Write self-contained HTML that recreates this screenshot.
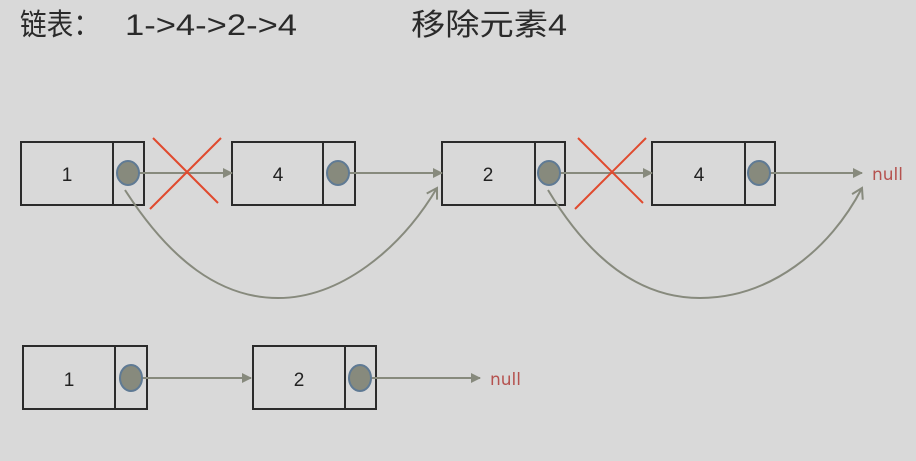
<!DOCTYPE html>
<html><head><meta charset="utf-8"><style>
html,body{margin:0;padding:0;background:#d9d9d9;}
body{width:916px;height:456px;overflow:hidden;}
</style></head><body>
<svg width="916" height="456" xmlns="http://www.w3.org/2000/svg">
<defs>
<marker id="a" markerWidth="10" markerHeight="10" refX="9" refY="5" orient="auto" markerUnits="userSpaceOnUse">
<path d="M0,0 L10,5 L0,10 Z" fill="#878a7d"/></marker>
<marker id="o" markerWidth="14" markerHeight="14" refX="12" refY="7" orient="auto" markerUnits="userSpaceOnUse">
<path d="M2,1 L12,7 L2,13" fill="none" stroke="#878a7d" stroke-width="2"/></marker>
</defs>
<g font-family="'Liberation Sans','Noto Sans CJK SC',sans-serif" font-size="30" fill="#2a2a2a">
<text x="20" y="35" textLength="80" lengthAdjust="spacingAndGlyphs">链表：</text>
<text x="125" y="35" textLength="172" lengthAdjust="spacingAndGlyphs">1-&gt;4-&gt;2-&gt;4</text>
<text x="411" y="35" textLength="156" lengthAdjust="spacingAndGlyphs">移除元素4</text>
</g>
<g fill="none" stroke="#2b2b2b" stroke-width="2">
<rect x="21" y="142" width="123" height="63"/><line x1="113" y1="142" x2="113" y2="205"/>
<rect x="232" y="142" width="123" height="63"/><line x1="323" y1="142" x2="323" y2="205"/>
<rect x="442" y="142" width="123" height="63"/><line x1="535" y1="142" x2="535" y2="205"/>
<rect x="652" y="142" width="123" height="63"/><line x1="745" y1="142" x2="745" y2="205"/>
<rect x="23" y="346" width="124" height="63"/><line x1="115" y1="346" x2="115" y2="409"/>
<rect x="253" y="346" width="123" height="63"/><line x1="345" y1="346" x2="345" y2="409"/>
</g>
<g font-family="'Liberation Sans',sans-serif" font-size="19" fill="#222" text-anchor="middle">
<text x="67" y="181">1</text><text x="278" y="181">4</text>
<text x="488" y="181">2</text><text x="699" y="181">4</text>
<text x="69" y="386">1</text><text x="299" y="386">2</text>
</g>
<g stroke="#878a7d" stroke-width="2" fill="none">
<line x1="139" y1="173" x2="232" y2="173" marker-end="url(#a)"/>
<line x1="349" y1="173" x2="442" y2="173" marker-end="url(#a)"/>
<line x1="560" y1="173" x2="652" y2="173" marker-end="url(#a)"/>
<line x1="770" y1="173" x2="862" y2="173" marker-end="url(#a)"/>
<line x1="142" y1="378" x2="251" y2="378" marker-end="url(#a)"/>
<line x1="371" y1="378" x2="480" y2="378" marker-end="url(#a)"/>
<path d="M125,190 C170,260 220,298 278,298 C340,298 400,250 437,188" marker-end="url(#o)"/>
<path d="M548,190 C590,260 640,298 700,298 C770,298 830,250 862,188" marker-end="url(#o)"/>
</g>
<g fill="#878a7d" stroke="#5f7a94" stroke-width="2">
<ellipse cx="128" cy="173" rx="11" ry="12"/><ellipse cx="338" cy="173" rx="11" ry="12"/>
<ellipse cx="549" cy="173" rx="11" ry="12"/><ellipse cx="759" cy="173" rx="11" ry="12"/>
<ellipse cx="131" cy="378" rx="11" ry="13"/><ellipse cx="360" cy="378" rx="11" ry="13"/>
</g>
<g stroke="#e04a2e" stroke-width="2">
<line x1="153" y1="138" x2="218" y2="203"/><line x1="221" y1="138" x2="150" y2="209"/>
<line x1="578" y1="138" x2="643" y2="203"/><line x1="646" y1="138" x2="575" y2="209"/>
</g>
<g font-family="'DejaVu Sans','Liberation Sans',sans-serif" font-size="17" fill="#b5524f">
<text x="872" y="180">null</text><text x="490" y="385">null</text>
</g>
</svg>
</body></html>
